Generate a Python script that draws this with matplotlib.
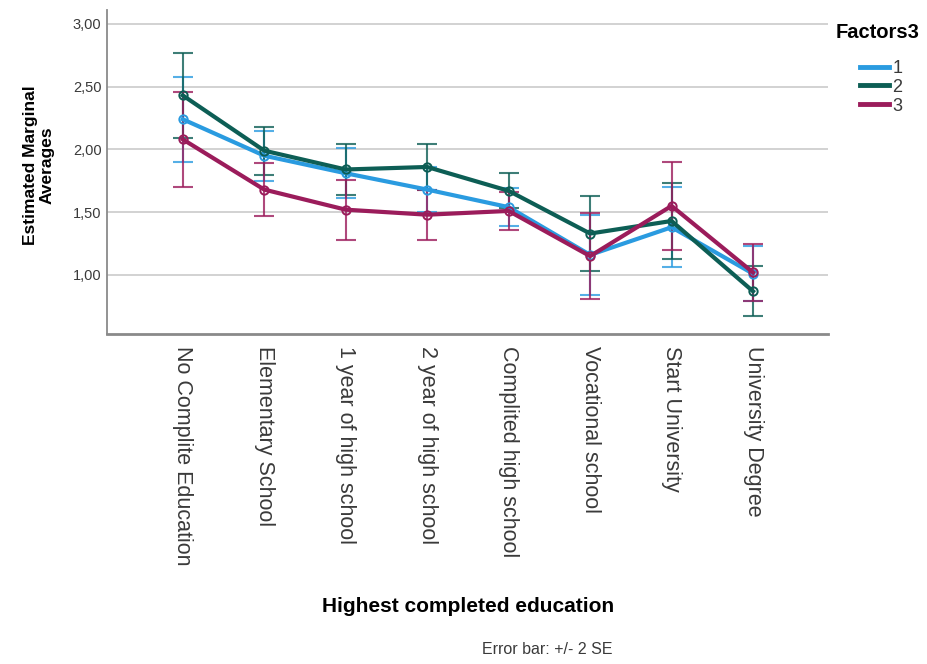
import numpy as np
import matplotlib
matplotlib.use("Agg")
import matplotlib.pyplot as plt
from matplotlib.lines import Line2D
from matplotlib.ticker import FuncFormatter

plt.rcParams['font.family'] = ['Liberation Sans', 'DejaVu Sans']

# estimated marginal means by education level, one series per factor group
categories = ["No Complite Education", "Elementary School", "1 year of high school",
              "2 year of high school", "Complited high school", "Vocational school",
              "Start University", "University Degree"]
groups = ["1", "2", "3"]

means_1 = [2.24, 1.95, 1.81, 1.68, 1.54, 1.16, 1.38, 1.01]
means_2 = [2.43, 1.99, 1.84, 1.86, 1.67, 1.33, 1.43, 0.87]
means_3 = [2.08, 1.68, 1.52, 1.48, 1.51, 1.15, 1.55, 1.02]

# error bar half-widths (+/- 2 SE)
err_1 = [0.34, 0.20, 0.20, 0.18, 0.15, 0.32, 0.32, 0.22]
err_2 = [0.34, 0.19, 0.20, 0.18, 0.14, 0.30, 0.30, 0.20]
err_3 = [0.38, 0.21, 0.24, 0.20, 0.15, 0.34, 0.35, 0.23]

yticks = [1.0, 1.5, 2.0, 2.5, 3.0]

colors = ['#2a9be0', '#0d5e55', '#9b1c5b']

fig = plt.figure(figsize=(9.28, 6.64), dpi=100)
ax = fig.add_axes([107/928, 1 - 334/664, (828 - 107)/928, (334 - 10)/664])

x = np.arange(len(categories))
series = [(means_1, err_1), (means_2, err_2), (means_3, err_3)]
for (m, e), c in zip(series, colors):
    ax.errorbar(x, m, yerr=e, fmt='none', ecolor=c, elinewidth=1.5,
                capsize=7, capthick=1.5, alpha=0.8, zorder=3)
    ax.plot(x, m, color=c, lw=3, marker='o', ms=6, mfc='none',
            mec=c, mew=1.4, zorder=4)

ax.set_xlim(-0.93, 7.92)
ax.set_ylim(0.53, 3.11)
ax.set_yticks(yticks)
ax.yaxis.set_major_formatter(FuncFormatter(lambda v, p: f"{v:.2f}".replace('.', ',')))
ax.set_xticks(x)
ax.set_xticklabels(categories, rotation=-90, va='top', ha='center',
                   fontsize=15.5, color='#3a3a3a')
ax.tick_params(axis='x', length=0, pad=9)
ax.tick_params(axis='y', length=0, pad=4, labelsize=10.5, labelcolor='#3a3a3a')

ax.grid(axis='y', color='#cfcfcf', lw=1.3)
ax.set_axisbelow(True)
for s in ['top', 'right']:
    ax.spines[s].set_visible(False)
ax.spines['left'].set_color('#8a8a8a')
ax.spines['left'].set_linewidth(1.3)
ax.spines['bottom'].set_color('#8a8a8a')
ax.spines['bottom'].set_linewidth(2)

fig.text(39/928, 1 - 165/664, "Estimated Marginal\nAverages", rotation=90,
         ha='center', va='center', fontsize=12.5, fontweight='bold',
         multialignment='center', linespacing=1.1)
fig.text(468/928, 1 - 606/664, "Highest completed education", ha='center',
         va='center', fontsize=15, fontweight='bold')
fig.text(547/928, 1 - 650/664, "Error bar: +/- 2 SE", ha='center',
         va='center', fontsize=11.5, color='#3a3a3a')

# legend: plain line swatches, title drawn separately
fig.text(836/928, 1 - 33/664, "Factors3", ha='left', va='center',
         fontsize=14.5, fontweight='bold')
handles = [Line2D([], [], color=c, lw=3.5) for c in colors]
leg = fig.legend(handles=handles, labels=groups, loc='upper left',
                 bbox_to_anchor=(860/928, 1 - 60/664), frameon=False,
                 fontsize=13, handlelength=1.6, handletextpad=0.2,
                 labelspacing=0.1, borderpad=0, borderaxespad=0)
for t in leg.get_texts():
    t.set_color('#3a3a3a')

fig.savefig('out.png', dpi=100)
